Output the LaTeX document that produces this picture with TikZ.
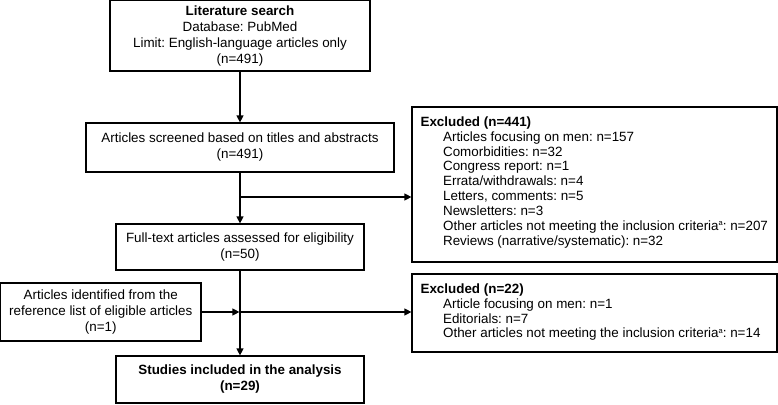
\documentclass[tikz,border=0pt]{standalone}
\usepackage{fontspec}
\setmainfont{Liberation Sans}
\usetikzlibrary{arrows.meta,calc}
\newcommand{\supa}{\raisebox{4.8pt}{\fontsize{7.5}{7.5}\selectfont a}}
\frenchspacing
\begin{document}
\frenchspacing
\begin{tikzpicture}[x=1pt,y=1pt,
  box/.style={draw, line width=1.2pt, inner sep=0pt, align=center, font=\fontsize{13.4}{16}\selectfont},
  list/.style={anchor=north west, inner sep=0pt, align=left, font=\fontsize{13.4}{14.85}\selectfont},
  arr/.style={line width=1.2pt, -{Triangle[length=7pt,width=7pt]}}]
\useasboundingbox (0,0) rectangle (778,-404);

\node[box, minimum width=260pt, minimum height=70.4pt] (b1) at (240,-35.8)
  {\textbf{Literature search}\\Database: PubMed\\Limit: English-language articles only\\(n=491)};
\node[box, minimum width=308pt, minimum height=49pt] (b2) at (240,-147.5)
  {Articles screened based on titles and abstracts\\(n=491)};
\node[box, minimum width=248pt, minimum height=46pt] (b3) at (240,-247)
  {Full-text articles assessed for eligibility\\(n=50)};
\node[box, minimum width=248pt, minimum height=47pt] (b4) at (240,-379.5)
  {\textbf{Studies included in the analysis}\\\textbf{(n=29)}};
\node[box, minimum width=200.4pt, minimum height=58pt] (lb) at (100.8,-312)
  {Articles identified from the\\reference list of eligible articles\\(n=1)};
\node[box, minimum width=365pt, minimum height=155pt] (ex1) at (594.5,-184.5) {};
\node[box, minimum width=365pt, minimum height=78pt] (ex2) at (594.5,-313) {};

\node[list] (t1) at ($(ex1.north west)+(9,-10)$)
  {\textbf{Excluded (n=441)}\\
   \hspace*{22.5pt}Articles focusing on men: n=157\\
   \hspace*{22.5pt}Comorbidities: n=32\\
   \hspace*{22.5pt}Congress report: n=1\\
   \hspace*{22.5pt}Errata/withdrawals: n=4\\
   \hspace*{22.5pt}Letters, comments: n=5\\
   \hspace*{22.5pt}Newsletters: n=3\\
   \hspace*{22.5pt}Other articles not meeting the inclusion criteria\supa: n=207\\
   \hspace*{22.5pt}Reviews (narrative/systematic): n=32};
\node[list] (t2) at ($(ex2.north west)+(9,-10)$)
  {\textbf{Excluded (n=22)}\\
   \hspace*{22.5pt}Article focusing on men: n=1\\
   \hspace*{22.5pt}Editorials: n=7\\
   \hspace*{22.5pt}Other articles not meeting the inclusion criteria\supa: n=14};

\coordinate (j1) at (240,-197);
\coordinate (j2) at (b3.south |- lb.east);

\draw[arr] (b1.south) -- (b2.north);
\draw[arr] (b2.south) -- (b3.north);
\draw[arr] (j1) -- (j1 -| ex1.west);
\draw[arr] (b3.south) -- (b4.north);
\draw[arr, shorten >=0.6pt] (lb.east) -- (j2);
\draw[arr] (j2) -- (j2 -| ex2.west);
\end{tikzpicture}
\end{document}
